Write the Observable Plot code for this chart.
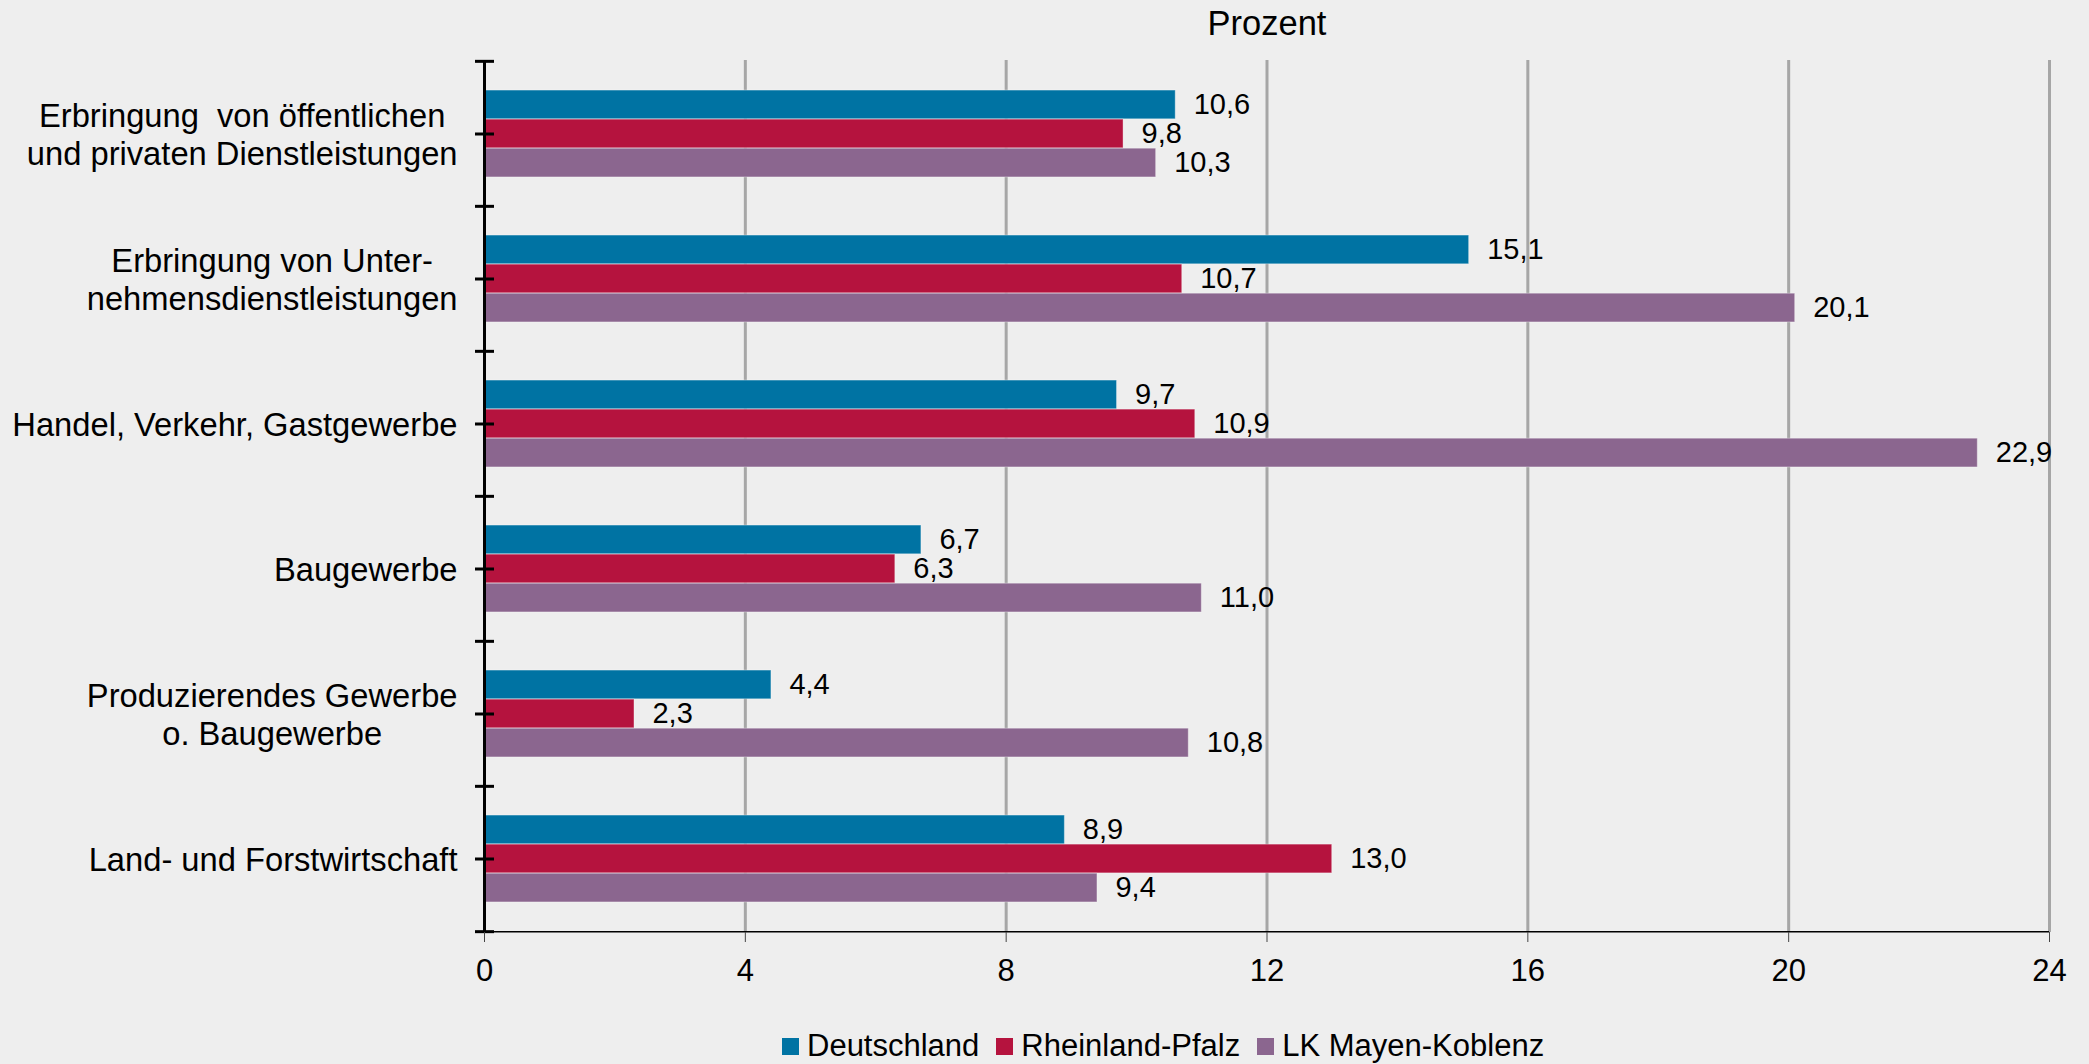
<!DOCTYPE html>
<html>
<head>
<meta charset="utf-8">
<script src="https://cdn.jsdelivr.net/npm/d3@7"></script>
<script src="https://cdn.jsdelivr.net/npm/@observablehq/plot@0.6"></script>
<style>
  html, body { margin: 0; padding: 0; background: #eeeeee; }
  body { width: 2089px; height: 1064px; overflow: hidden; font-family: "Liberation Sans", Arial, sans-serif; }
  svg text { white-space: pre; }
  #legend { display: flex; align-items: center; padding-left: 782px; height: 44px; margin-top: 14px; font-size: 31px; line-height: 36px; color: #000; }
  .item { display: flex; align-items: center; margin-right: 17px; }
  .sw { width: 17px; height: 17px; margin-right: 8px; }
</style>
</head>
<body>
<div id="chart"></div>
<div id="legend"></div>
<script>
const categories = [
  "Erbringung  von öffentlichen\nund privaten Dienstleistungen",
  "Erbringung von Unter-\nnehmensdienstleistungen",
  "Handel, Verkehr, Gastgewerbe",
  "Baugewerbe",
  "Produzierendes Gewerbe\no. Baugewerbe",
  "Land- und Forstwirtschaft"
];
const series = ["Deutschland", "Rheinland-Pfalz", "LK Mayen-Koblenz"];
const deutschland = [10.6, 15.1, 9.7, 6.7, 4.4, 8.9];
const rheinlandPfalz = [9.8, 10.7, 10.9, 6.3, 2.3, 13.0];
const lkMayenKoblenz = [10.3, 20.1, 22.9, 11.0, 10.8, 9.4];
const xTicks = [0, 4, 8, 12, 16, 20, 24];
const colors = ["#0073a3", "#b5133e", "#8b668f"];
const axisTitle = "Prozent";

const values = [deutschland, rheinlandPfalz, lkMayenKoblenz];
const rows = categories.flatMap((c, i) => series.map((s, k) => ({category: c, series: s, k, value: values[k][i]})));
const fmt = v => v.toFixed(1).replace(".", ",");

const W = 2089, H = 1010, mT = 60, mB = 78, mL = 484, mR = 40;
const step = (H - mT - mB) / categories.length;
const barH = step / 5;
const inset = (step - barH) / 2;

const hline = {draw(ctx, size) { const r = Math.sqrt(size / Math.PI); ctx.moveTo(-r, 0); ctx.lineTo(r, 0); }};

const seriesMarks = series.flatMap((s, k) => {
  const d = rows.filter(r => r.k === k);
  const dy = (k - 1) * barH;
  return [
    Plot.barX(d, {x: "value", y: "category", fill: colors[k], insetTop: inset + dy, insetBottom: inset - dy, stroke: "#ffffff", strokeOpacity: 0.35, strokeWidth: 1}),
    Plot.text(d, {x: "value", y: "category", text: r => fmt(r.value), dy, dx: 18, textAnchor: "start", fontSize: 29, fill: "#000"})
  ];
});

const chart = Plot.plot({
  width: W, height: H,
  marginTop: mT, marginBottom: mB, marginLeft: mL, marginRight: mR,
  style: {background: "#eeeeee", fontFamily: "'Liberation Sans', Arial, sans-serif", color: "#000", overflow: "visible"},
  x: {domain: [0, 24], label: null},
  y: {domain: categories, padding: 0, label: null},
  marks: [
    Plot.gridX({ticks: xTicks.slice(1), stroke: "#a6a6a6", strokeWidth: 3, strokeOpacity: 1}),
    ...seriesMarks,
    Plot.ruleY([categories[categories.length - 1]], {dy: step / 2, stroke: "#000", strokeWidth: 1.5}),
    Plot.ruleX([0], {stroke: "#000", strokeWidth: 3}),
    Plot.dot(categories, {x: () => 0, y: d => d, symbol: hline, r: 9.5, fill: "none", stroke: "#000", strokeWidth: 3}),
    Plot.dot(categories, {x: () => 0, y: d => d, dy: -step / 2, symbol: hline, r: 9.5, fill: "none", stroke: "#000", strokeWidth: 3}),
    Plot.dot([categories[categories.length - 1]], {x: () => 0, y: d => d, dy: step / 2, symbol: hline, r: 9.5, fill: "none", stroke: "#000", strokeWidth: 3}),
    Plot.axisX({ticks: xTicks, tickSize: 10, tickPadding: 16, fontSize: 31, stroke: "#444", strokeWidth: 1, tickFormat: d => String(d), label: null}),
    Plot.axisY({tickSize: 0, tickPadding: 27, fontSize: 32.7, lineHeight: 1.14, label: null}),
    Plot.text([axisTitle], {frameAnchor: "top", lineAnchor: "middle", dy: -37, fontSize: 34.5, fill: "#000"})
  ]
});
document.getElementById("chart").appendChild(chart);

// center-align multi-line category labels (as in the original)
chart.querySelectorAll('g[aria-label="y-axis tick label"] text').forEach(t => {
  const spans = t.querySelectorAll("tspan");
  if (spans.length < 2) return;
  const bb = t.getBBox();
  const right = bb.x + bb.width;
  let maxW = 0;
  spans.forEach(s => { maxW = Math.max(maxW, s.getComputedTextLength()); });
  t.setAttribute("text-anchor", "middle");
  spans.forEach(s => s.setAttribute("x", right - maxW / 2));
});

const legend = document.getElementById("legend");
series.forEach((s, k) => {
  const it = document.createElement("div");
  it.className = "item";
  const sw = document.createElement("div");
  sw.className = "sw";
  sw.style.background = colors[k];
  const lb = document.createElement("span");
  lb.textContent = s;
  it.appendChild(sw); it.appendChild(lb);
  legend.appendChild(it);
});
</script>
</body>
</html>
